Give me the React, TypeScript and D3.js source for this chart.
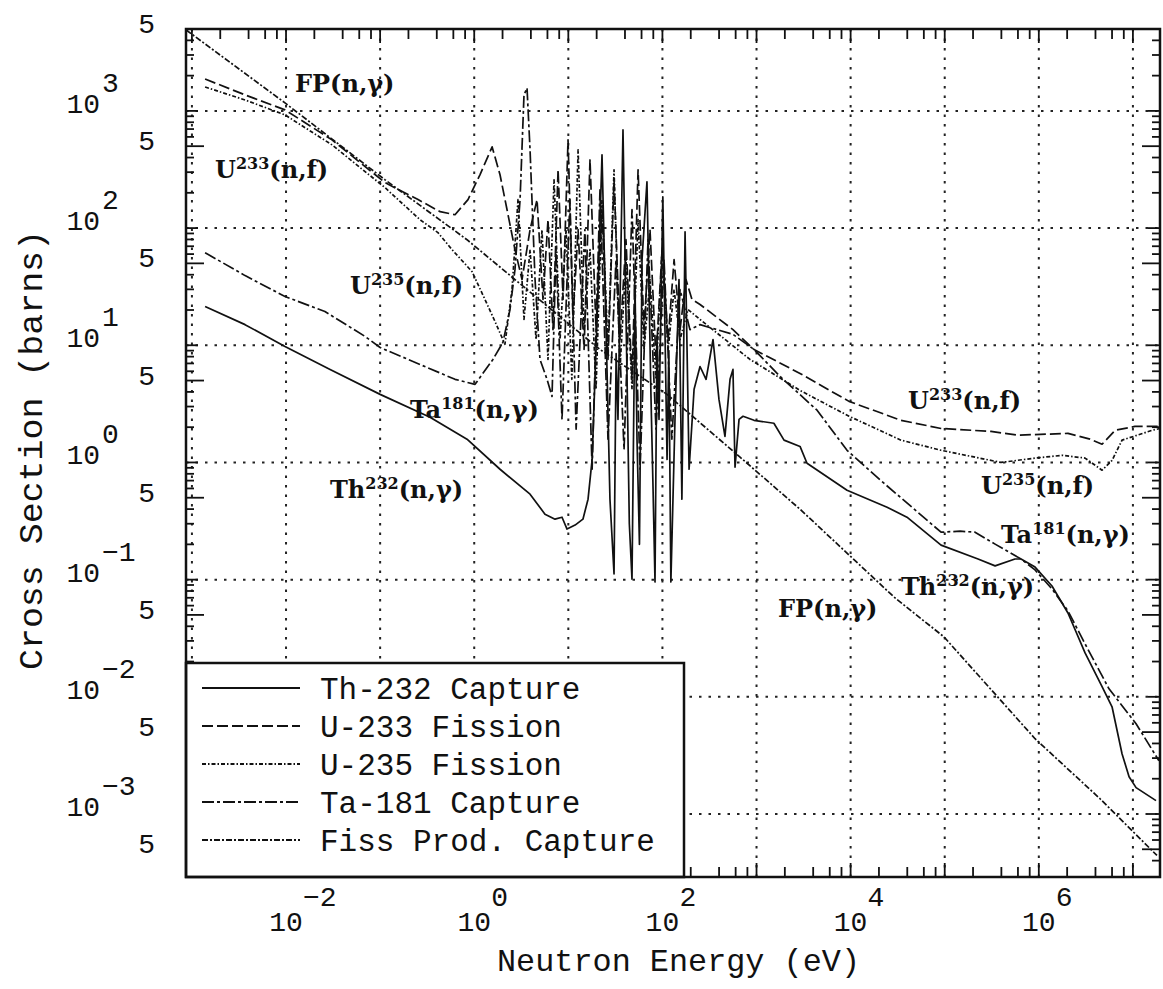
import React from 'react';
import * as d3 from 'd3';

type Pt = [number, number]; // [neutron energy (eV), cross section (barns)]

const th232Capture: Pt[] = [
  [1.38e-3, 21.4], [3.67e-3, 15.0], [9.75e-3, 9.77], [2.94e-2, 6.22], [0.1, 3.81], [0.339, 2.43],
  [0.838, 1.58], [1.88, 0.875], [3.92, 0.536], [5.65, 0.362], [7.22, 0.328], [8.57, 0.341],
  [9.69, 0.27], [11.8, 0.292], [14.3, 0.328], [16.2, 0.486], [17.9, 1.06], [20.2, 16.6],
  [22.8, 422], [25.2, 13.6], [27.7, 0.486], [30.6, 0.112], [32.2, 8.5], [33.7, 2.33], [38.1, 688],
  [42.1, 5.12], [44.5, 0.3], [47.5, 0.101], [51.2, 29.9], [53.7, 1.58], [57.0, 0.2], [60.7, 53.8],
  [68.5, 248], [75.7, 3.45], [79.5, 0.6], [83.4, 0.0955], [87.5, 12.0], [92.0, 2.33], [101, 185],
  [112, 1.06], [117, 9.0], [123, 0.0955], [136, 2.33], [150, 36.4], [161, 0.486], [174, 93.1],
  [192, 0.875], [217, 4.21], [251, 6.59], [291, 5.12],
  [345, 11.2], [399, 3.45], [462, 1.67], [523, 5.12], [562, 6.22], [591, 0.91], [652, 2.33],
  [719, 2.48], [940, 2.29], [1530, 2.16], [1960, 1.55], [2900, 1.37], [3440, 0.984],
  [9160, 0.58], [2.44e4, 0.415], [3.97e4, 0.341], [9.14e4, 0.197], [2.26e5, 0.15],
  [3.43e5, 0.131], [5.58e5, 0.15], [6.47e5, 0.15], [9.12e5, 0.128], [1.38e6, 0.0882],
  [2.04e6, 0.0519], [3.1e6, 0.0237], [4.7e6, 0.0122], [6.0e6, 8.22e-3], [7.66e6, 3.27e-3],
  [9.1e6, 2.08e-3], [1.08e7, 1.68e-3], [1.76e7, 1.3e-3],
];

const u233Fission: Pt[] = [
  [1.38e-3, 1870], [3.67e-3, 1370], [9.75e-3, 1020], [3.08e-2, 566], [0.113, 244], [0.253, 175],
  [0.434, 138], [0.625, 130], [0.859, 175], [1.15, 285], [1.55, 493], [1.88, 285], [2.23, 144],
  [2.71, 65.5], [3.22, 36.4], [3.92, 96.9], [4.65, 175], [5.38, 24.6], [6.08, 118], [6.87, 13.6],
  [7.78, 314], [8.79, 24.6], [9.93, 566], [11.2, 16.6], [12.7, 96.9], [14.7, 9.21], [17.0, 383],
  [19.7, 13.6], [22.8, 144], [26.4, 7.57], [30.6, 258], [35.4, 11.2], [41.0, 79.6], [47.5, 5.12],
  [55.1, 314], [63.7, 13.6], [73.8, 96.9], [85.5, 7.57], [99.1, 65.5], [115, 11.2], [133, 53.8],
  [154, 13.6], [178, 36.4], [206, 24.6], [251, 22.3], [562, 13.6], [940, 9.21], [2900, 5.75],
  [9620, 3.32], [3.43e4, 2.29], [9.14e4, 1.95], [3.1e5, 1.84], [6.01e5, 1.71], [2.04e6, 1.77],
  [3.5e6, 1.58], [4.7e6, 1.43], [6.46e6, 1.88], [1.05e7, 2.03], [1.85e7, 2.03],
];

const u235Fission: Pt[] = [
  [1.38e-3, 1600], [3.67e-3, 1240], [9.75e-3, 925], [3.08e-2, 513], [0.113, 221], [0.265, 118],
  [0.412, 91.4], [0.581, 65.5], [0.948, 42.5], [1.3, 24.6], [1.66, 16.0], [2.12, 10.2],
  [2.52, 29.9], [2.92, 175], [3.38, 16.6], [3.92, 65.5], [4.54, 11.2], [5.25, 96.9], [6.08, 7.57],
  [7.05, 258], [8.17, 11.2], [9.46, 96.9], [10.9, 5.12], [12.7, 465], [14.7, 13.6], [17.0, 65.5],
  [19.7, 4.21], [22.8, 175], [26.4, 9.21], [30.6, 314], [35.4, 6.22], [41.0, 53.8], [47.5, 4.21],
  [55.1, 118], [63.7, 9.21], [73.8, 36.4], [85.5, 5.12], [99.1, 65.5], [115, 9.21], [133, 29.9],
  [154, 11.2], [187, 20.2], [251, 16.6], [853, 7.57], [2900, 4.12], [9620, 2.48], [3.43e4, 1.55],
  [9.14e4, 1.27], [3.96e5, 1.0], [9.12e5, 1.09], [1.77e6, 1.15], [3.1e6, 1.09], [4.7e6, 0.859],
  [6.0e6, 1.04], [7.66e6, 1.55], [1.6e7, 1.88], [1.94e7, 1.95],
];

const ta181Capture: Pt[] = [
  [1.38e-3, 61.7], [3.67e-3, 39.3], [9.75e-3, 26.1], [2.59e-2, 19.4], [6.92e-2, 11.9], [0.1, 9.57],
  [0.265, 6.86], [0.625, 5.12], [1.02, 4.64], [1.58, 7.57], [2.02, 10.6], [2.4, 20.2], [2.71, 44.2],
  [3.07, 175], [3.38, 1370], [3.64, 1570], [3.92, 465], [4.43, 36.4], [5.0, 7.57], [5.94, 5.12],
  [6.71, 3.66], [7.4, 65.5], [8.57, 2.33], [10.4, 175], [12.1, 1.92], [15.0, 96.9], [17.9, 0.875],
  [21.7, 212], [26.4, 1.58], [32.1, 53.8], [39.1, 1.29], [47.5, 144], [57.8, 0.875], [70.3, 79.6],
  [85.5, 1.92], [104, 53.8], [126, 1.58], [154, 29.9], [196, 13.6], [251, 15.0], [562, 12.4],
  [940, 9.21], [1780, 5.42], [4400, 2.79], [9160, 1.27], [2.26e4, 0.665], [9.14e4, 0.254],
  [1.46e5, 0.259], [2.1e5, 0.254], [3.43e5, 0.201], [6.47e5, 0.15], [9.12e5, 0.121],
  [1.38e6, 0.0832], [2.04e6, 0.0541], [3.1e6, 0.0283], [5.57e6, 0.0117], [1.08e7, 5.89e-3],
  [1.89e7, 2.85e-3],
];

const fpCapture: Pt[] = [
  [8.7e-4, 4900], [9.75e-3, 1170], [0.113, 258], [0.838, 79.6], [3.64, 29.9], [21.7, 9.21],
  [112, 3.81], [668, 1.11], [2900, 0.399], [2.89e4, 0.0711], [9.84e4, 0.0324], [9.12e5, 4.39e-3],
  [4.47e6, 1.35e-3], [1.8e7, 4.43e-4],
];

const legendLabels = ['Th-232 Capture', 'U-233 Fission', 'U-235 Fission', 'Ta-181 Capture', 'Fiss Prod. Capture'];
const xTickExponents = [-2, 0, 2, 4, 6];
const yTickExponents = [-3, -2, -1, 0, 1, 2, 3];
const yFiveValues = [5e-4, 5e-3, 5e-2, 5e-1, 5, 50, 500, 5000];

const series = [
  { name: 'th', data: th232Capture, dash: 'none' },
  { name: 'u233', data: u233Fission, dash: '11 4' },
  { name: 'u235', data: u235Fission, dash: '4 2 1.5 2' },
  { name: 'ta', data: ta181Capture, dash: '12 3 3 3' },
  { name: 'fp', data: fpCapture, dash: '6 2 2 2' },
];

// curve annotations: [base, superscript, rest, x, y]
const notes: [string, string, string, number, number][] = [
  ['FP', '', '(n,γ)', 295, 92],
  ['U', '233', '(n,f)', 215, 178],
  ['U', '235', '(n,f)', 350, 294],
  ['Ta', '181', '(n,γ)', 410, 418],
  ['Th', '232', '(n,γ)', 330, 498],
  ['U', '233', '(n,f)', 908, 409],
  ['U', '235', '(n,f)', 981, 494],
  ['Ta', '181', '(n,γ)', 1001, 543],
  ['Th', '232', '(n,γ)', 901, 595],
  ['FP', '', '(n,γ)', 778, 617],
];

const L = 186, R = 1160, T = 29, B = 877;
const mono = '"Liberation Mono", "DejaVu Sans Mono", monospace';
const serif = '"DejaVu Serif", "Liberation Serif", serif';

export default function App() {
  const x = d3.scaleLog().domain([8.65e-4, 1.94e7]).range([L, R]);
  const y = d3.scaleLog().domain([2.9e-4, 5000]).range([B, T]);
  const line = d3.line<Pt>().x(d => x(d[0])).y(d => y(d[1]));

  const xDecades = d3.range(-3, 8).map(e => Math.pow(10, e));
  const yDecades = d3.range(-3, 4).map(e => Math.pow(10, e));
  const xMinor: number[] = [];
  d3.range(-4, 8).forEach(e => [2, 4, 6, 8].forEach(m => {
    const v = m * Math.pow(10, e);
    if (x(v) > L + 2 && x(v) < R - 2) xMinor.push(v);
  }));
  const yMinor: number[] = [];
  d3.range(-4, 4).forEach(e => [1, 2, 3, 4, 5, 6, 7, 8, 9].forEach(m => {
    const v = m * Math.pow(10, e);
    if (y(v) > T + 2 && y(v) < B - 2) yMinor.push(v);
  }));

  const legendTop = 663, legendRight = 684;

  return (
    <svg width={1163} height={989} style={{ position: 'absolute', left: 0, top: 0, background: '#fff' }}>
      <defs>
        <clipPath id="plot">
          <rect x={L} y={T} width={R - L} height={B - T} />
        </clipPath>
      </defs>
      <rect width={1163} height={989} fill="#fff" />

      {/* grid */}
      <g stroke="#222" strokeWidth={2} strokeDasharray="2.5 7">
        {xDecades.map(v => (
          <line key={'gx' + v} x1={x(v)} x2={x(v)} y1={T} y2={B} />
        ))}
        {yDecades.map(v => (
          <line key={'gy' + v} x1={L} x2={R} y1={y(v)} y2={y(v)} />
        ))}
      </g>

      {/* ticks */}
      <g stroke="#111" strokeWidth={1.8}>
        {xMinor.concat(xDecades).map((v, i) => {
          const len = Math.abs(Math.log10(v) % 1) < 1e-6 ? 14 : 10;
          return (
            <g key={'tx' + i}>
              <line x1={x(v)} x2={x(v)} y1={T} y2={T + len} />
              <line x1={x(v)} x2={x(v)} y1={B} y2={B - len} />
            </g>
          );
        })}
        {yMinor.map((v, i) => {
          const m = Math.round(v / Math.pow(10, Math.floor(Math.log10(v) + 1e-9)));
          const len = m === 5 ? 18 : m === 1 ? 12 : 8;
          return (
            <g key={'ty' + i}>
              <line x1={L} x2={L + len} y1={y(v)} y2={y(v)} />
              <line x1={R} x2={R - len} y1={y(v)} y2={y(v)} />
            </g>
          );
        })}
      </g>

      {/* curves */}
      <g clipPath="url(#plot)" fill="none" stroke="#111" strokeWidth={1.7} strokeLinejoin="round">
        {series.map(s => (
          <path key={s.name} d={line(s.data) || ''} strokeDasharray={s.dash === 'none' ? undefined : s.dash} />
        ))}
      </g>

      {/* curve annotations */}
      <g fontFamily={serif} fontWeight="bold" fontSize={24} fill="#111">
        {notes.map(([base, sup, rest, nx, ny], i) => (
          <text key={'n' + i} x={nx} y={ny}>
            {base}
            {sup ? <tspan dy={-9} fontSize={16}>{sup}</tspan> : null}
            <tspan dy={sup ? 9 : 0}>{rest}</tspan>
          </text>
        ))}
      </g>

      {/* legend */}
      <rect x={L} y={legendTop} width={legendRight - L} height={B - legendTop} fill="#fff" stroke="#111" strokeWidth={2.5} />
      {legendLabels.map((lab, i) => {
        const ry = 688 + i * 38;
        return (
          <g key={lab}>
            <line x1={202} x2={300} y1={ry} y2={ry} stroke="#111" strokeWidth={2}
              strokeDasharray={series[i].dash === 'none' ? undefined : series[i].dash} />
            <text x={320} y={ry + 11} fontFamily={mono} fontSize={31} fill="#111">{lab}</text>
          </g>
        );
      })}

      {/* frame */}
      <rect x={L} y={T} width={R - L} height={B - T} fill="none" stroke="#111" strokeWidth={2.5} />

      {/* y tick labels */}
      <g fontFamily={mono} fontSize={28} fill="#111">
        {yTickExponents.map(e => {
          const ty = y(Math.pow(10, e));
          return (
            <g key={'yl' + e}>
              <text x={100} y={ty + 2} textAnchor="end">10</text>
              <text x={102} y={ty - 19}>{e < 0 ? '\u2212' + Math.abs(e) : String(e)}</text>
            </g>
          );
        })}
        {yFiveValues.map(v => (
          <text key={'y5' + v} x={155} y={y(v) + 4} textAnchor="end">5</text>
        ))}
      </g>

      {/* x tick labels */}
      <g fontFamily={mono} fontSize={28} fill="#111">
        {xTickExponents.map(e => {
          const tx = x(Math.pow(10, e));
          return (
            <g key={'xl' + e}>
              <text x={tx} y={931} textAnchor="middle">10</text>
              <text x={tx + 17} y={906}>{e < 0 ? '\u2212' + Math.abs(e) : String(e)}</text>
            </g>
          );
        })}
      </g>

      {/* axis titles */}
      <text x={497} y={971} fontFamily={mono} fontSize={32} fill="#111" textLength={363} lengthAdjust="spacingAndGlyphs">
        Neutron Energy (eV)
      </text>
      <text transform="translate(42,670) rotate(-90)" fontFamily={mono} fontSize={33} fill="#111"
        textLength={440} lengthAdjust="spacingAndGlyphs">
        Cross Section (barns)
      </text>
    </svg>
  );
}
